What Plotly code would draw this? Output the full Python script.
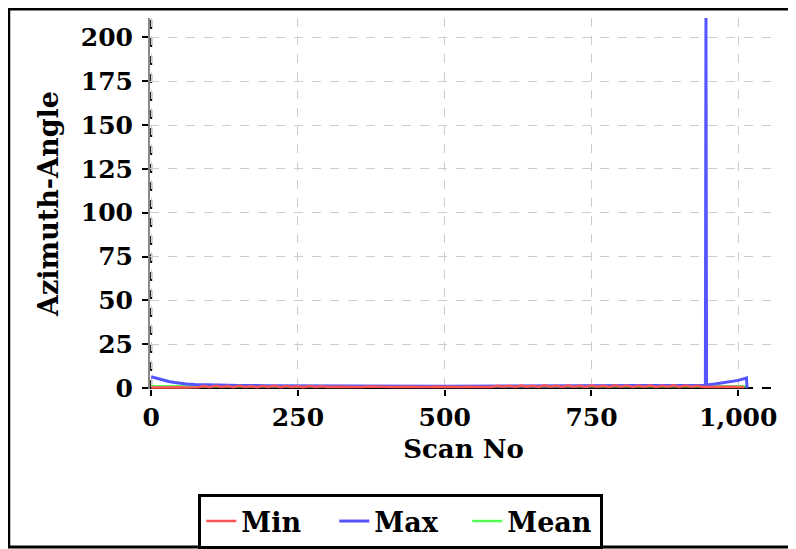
import plotly.graph_objects as go

# scan numbers / values
min_scan = list(range(0, 1020, 10))
min_vals = [0.3, 0.4, 0.3, 0.5, 0.4, 0.5, 0.4, 0.6,
            0.5, 1.2, 0.5, 1.3, 0.6, 1.2, 0.5, 1.3, 0.6, 1.1, 0.5, 1.2,
            0.6, 1.3, 0.5, 1.2, 0.6, 1.1, 0.5, 1.2, 0.6, 1.0, 0.6,
            0.8, 0.7, 0.9, 0.7, 0.8, 0.7, 0.9, 0.8, 0.7, 0.8, 0.9, 0.7,
            0.8, 0.7, 0.8, 0.9, 0.7, 0.8, 0.7, 0.8, 0.9, 0.8, 0.7, 0.8,
            0.9, 0.8, 0.7,
            0.7, 1.3, 0.8, 1.4, 0.7, 1.5, 0.8, 1.4, 0.7, 1.6, 0.8, 1.4,
            0.7, 1.5, 0.8, 1.3, 0.7, 1.5, 0.8, 1.4, 0.7, 1.6, 0.8, 1.5,
            0.7, 1.4, 0.8, 1.5, 0.7, 1.4, 0.8, 1.6, 0.7, 1.5, 0.8, 1.4, 0.7,
            0.8, 0.7, 0.8, 0.7, 0.8, 0.7, 0.6]

max_scan = [0, 10, 20, 30, 40, 50, 60, 75, 100, 150, 200, 250, 300, 400,
            500, 600, 700, 800, 900, 944, 945, 946, 960, 980, 1000, 1014, 1015]
max_vals = [6.5, 5.5, 4.6, 3.8, 3.2, 2.7, 2.3, 2.0, 1.7, 1.5, 1.4, 1.3, 1.2, 1.1,
            1.1, 1.2, 1.3, 1.4, 1.5, 1.6, 212, 1.8, 2.3, 3.2, 4.4, 5.8, 0]

mean_scan = [0, 50, 100, 200, 300, 400, 500, 600, 700, 800, 900, 1000, 1015]
mean_vals = [1.0, 1.0, 0.9, 0.9, 0.9, 0.9, 0.9, 0.9, 1.0, 1.0, 1.0, 1.1, 1.1]

x_ticks = [0, 250, 500, 750, 1000]
y_ticks = [0, 25, 50, 75, 100, 125, 150, 175, 200]

FONT = "DejaVu Serif"

fig = go.Figure()
# drawn Mean -> Max -> Min so red sits on top; legend order kept Min, Max, Mean
fig.add_trace(go.Scatter(x=mean_scan, y=mean_vals, name="Mean", mode="lines",
                         legendrank=3, line=dict(color="#55ff55", width=2.5)))
fig.add_trace(go.Scatter(x=max_scan, y=max_vals, name="Max", mode="lines",
                         legendrank=2, line=dict(color="#5555ff", width=3)))
fig.add_trace(go.Scatter(x=min_scan, y=min_vals, name="Min", mode="lines",
                         legendrank=1, line=dict(color="#ff5555", width=2.5)))

# axis lines: dashed zero lines + solid parts (under the data)
fig.add_shape(type="line", xref="x", yref="paper", x0=0, x1=0, y0=0, y1=1,
              layer="below", line=dict(color="black", width=2, dash="dash"))
fig.add_shape(type="line", xref="paper", yref="y", x0=0, x1=1, y0=0, y1=0,
              layer="below", line=dict(color="black", width=2, dash="dash"))
fig.add_shape(type="line", xref="x", yref="y", x0=0, x1=1015, y0=0, y1=0,
              layer="below", line=dict(color="black", width=2))
# outer frame
fig.add_shape(type="rect", xref="paper", yref="paper",
              x0=-0.2253, x1=1.2, y0=-0.4259, y1=1.024,
              line=dict(color="black", width=3))

fig.update_layout(
    width=796, height=549,
    margin=dict(l=142, r=27, t=10, b=168, autoexpand=False),
    plot_bgcolor="white", paper_bgcolor="white",
    font=dict(family=FONT, color="black", size=25),
    showlegend=True,
    legend=dict(orientation="h", x=0.40, xanchor="center", y=-0.283, yanchor="top",
                bordercolor="black", borderwidth=3, traceorder="normal",
                entrywidth=88, entrywidthmode="pixels",
                font=dict(family=FONT, size=27, weight="bold")),
    xaxis=dict(
        title=dict(text="<b>Scan No</b>", font=dict(size=26), standoff=8),
        range=[-2, 1066], tickvals=x_ticks, tickformat=",d",
        tickfont=dict(size=25, weight="bold"), automargin=False,
        ticks="outside", ticklen=6, tickwidth=2, tickcolor="black",
        showgrid=True, gridcolor="#cccccc", griddash="dash", gridwidth=1,
        zeroline=False, showline=False,
    ),
    yaxis=dict(
        title=dict(text="<b>Azimuth-Angle</b>", font=dict(size=27), standoff=14),
        range=[-0.5, 211], tickvals=y_ticks,
        tickfont=dict(size=25, weight="bold"), automargin=False,
        ticks="outside", ticklen=6, tickwidth=2, tickcolor="black",
        ticklabelstandoff=4,
        showgrid=True, gridcolor="#cccccc", griddash="dash", gridwidth=1,
        zeroline=False, showline=True, linecolor="#888888", linewidth=2,
    ),
)

fig.write_html("out.html")
